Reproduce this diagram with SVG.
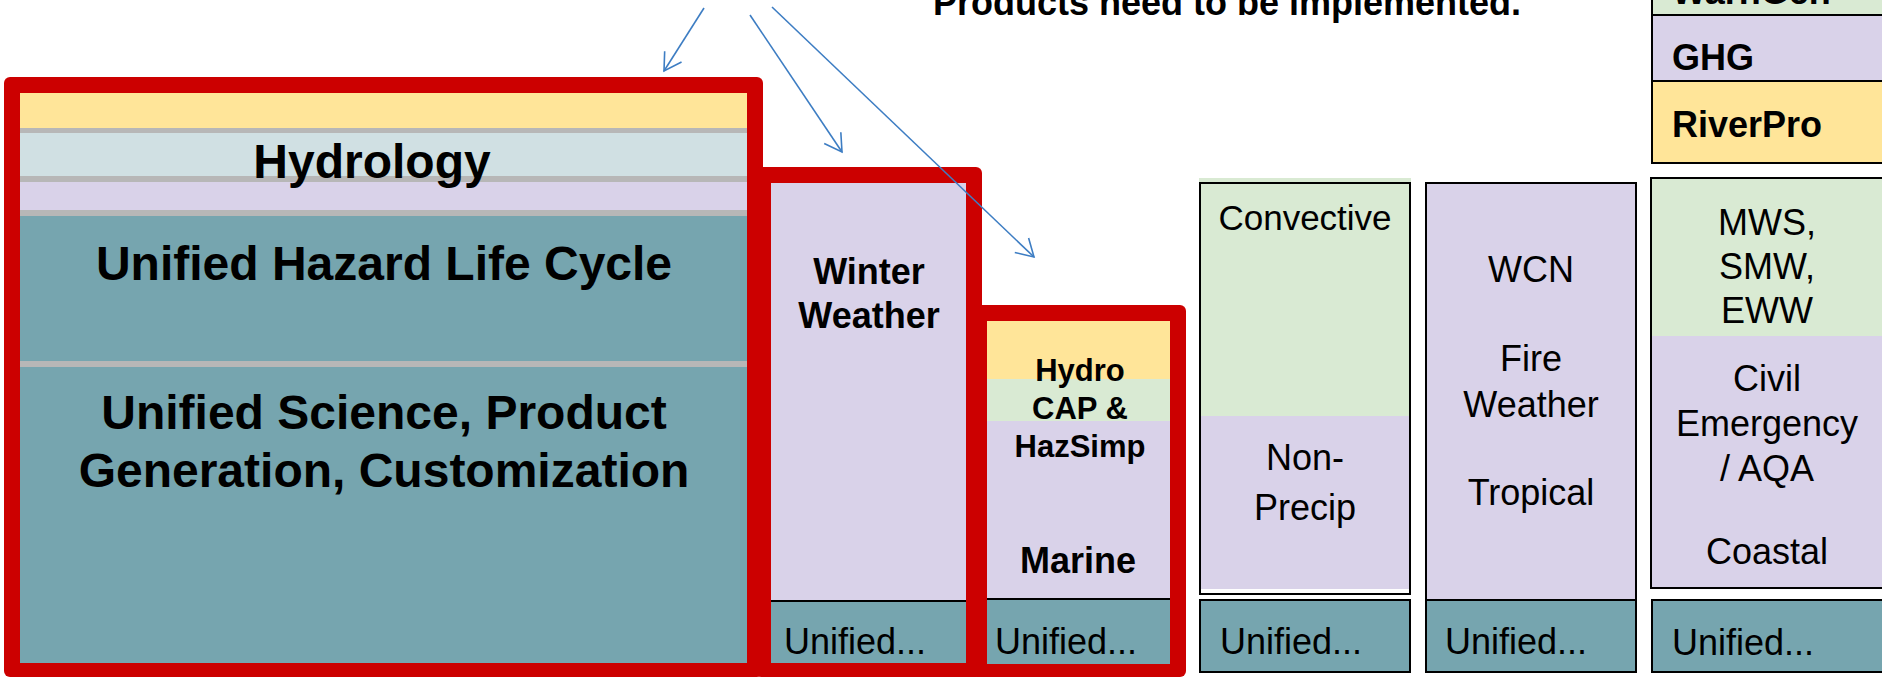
<svg xmlns="http://www.w3.org/2000/svg" width="1882" height="677" viewBox="0 0 1882 677">
<defs>
<style>
.t{font-family:"Liberation Sans",Arial,sans-serif;fill:#000}
.b{font-weight:bold}
.m{text-anchor:middle}
.s48{font-size:48px}
.s36{font-size:36px}
.s35{font-size:35px}
.s31{font-size:31px}
.frame{fill:#CC0000}
.yel{fill:#FFE599}
.blu{fill:#D0E0E3}
.lav{fill:#D9D2E9}
.teal{fill:#76A5AF}
.grn{fill:#D9EAD3}
.sep{fill:#B7B7B7}
.bx{stroke:#000;stroke-width:2}
.ol{fill:none;stroke:#000;stroke-width:2}
.arr{fill:none;stroke:#3D7DC3;stroke-width:1.6}
</style>
<marker id="ah" markerUnits="userSpaceOnUse" markerWidth="24" markerHeight="24" viewBox="-20 -12 24 24" refX="0" refY="0" orient="auto"><path d="M-17,-10 L0,0 L-17,10" fill="none" stroke="#3D7DC3" stroke-width="1.6"/></marker>
</defs>
<rect width="1882" height="677" fill="#fff"/>

<g id="frame1">
<rect class="frame" x="4" y="77" width="759" height="600" rx="6"/>
<rect class="yel" x="20" y="93" width="727" height="35"/>
<rect class="sep" x="20" y="128" width="727" height="5"/>
<rect class="blu" x="20" y="133" width="727" height="43"/>
<rect class="sep" x="20" y="176" width="727" height="6"/>
<rect class="lav" x="20" y="182" width="727" height="28"/>
<rect class="sep" x="20" y="210" width="727" height="6"/>
<rect class="teal" x="20" y="216" width="727" height="145"/>
<rect class="sep" x="20" y="361" width="727" height="6"/>
<rect class="teal" x="20" y="367" width="727" height="296"/>
<text class="t b s48 m" x="372" y="178">Hydrology</text>
<text class="t b s48 m" x="384" y="280">Unified Hazard Life Cycle</text>
<text class="t b s48 m" x="384" y="429">Unified Science, Product</text>
<text class="t b s48 m" x="384" y="487">Generation, Customization</text>
</g>

<g id="frame2">
<rect class="frame" x="755" y="167" width="227" height="510" rx="6"/>
<rect class="lav" x="771" y="183" width="195" height="417"/>
<rect class="teal" x="771" y="600" width="195" height="63"/>
<rect fill="#000" x="771" y="600" width="195" height="2"/>
<text class="t b s36 m" x="869" y="284">Winter</text>
<text class="t b s36 m" x="869" y="328">Weather</text>
<text class="t s36" x="784" y="654">Unified...</text>
</g>

<g id="frame3">
<rect class="frame" x="971" y="305" width="215" height="372" rx="6"/>
<rect class="yel" x="987" y="321" width="183" height="58"/>
<rect class="grn" x="987" y="379" width="183" height="42"/>
<rect class="lav" x="987" y="421" width="183" height="177"/>
<rect class="teal" x="987" y="598" width="183" height="66"/>
<rect fill="#000" x="987" y="598" width="183" height="2"/>
<text class="t b s31 m" x="1080" y="381">Hydro</text>
<text class="t b s31 m" x="1080" y="419">CAP &amp;</text>
<text class="t b s31 m" x="1080" y="457">HazSimp</text>
<text class="t b s36 m" x="1078" y="573">Marine</text>
<text class="t s36" x="995" y="654">Unified...</text>
</g>

<g id="convective">
<rect class="grn" x="1199" y="178" width="212" height="238"/>
<rect class="lav" x="1199" y="416" width="212" height="173"/>
<rect class="ol" x="1200" y="183" width="210" height="411"/>
<text class="t s35 m" x="1305" y="230">Convective</text>
<text class="t s36 m" x="1305" y="470">Non-</text>
<text class="t s36 m" x="1305" y="520">Precip</text>
</g>
<g id="convective-unified">
<rect class="teal bx" x="1200" y="600" width="210" height="72"/>
<text class="t s36" x="1220" y="654">Unified...</text>
</g>

<g id="wcn">
<rect class="lav bx" x="1426" y="183" width="210" height="417"/>
<text class="t s36 m" x="1531" y="282">WCN</text>
<text class="t s36 m" x="1531" y="371">Fire</text>
<text class="t s36 m" x="1531" y="417">Weather</text>
<text class="t s36 m" x="1531" y="505">Tropical</text>
</g>
<g id="wcn-unified">
<rect class="teal bx" x="1426" y="600" width="210" height="72"/>
<text class="t s36" x="1445" y="654">Unified...</text>
</g>

<g id="mws">
<rect class="grn" x="1651" y="178" width="240" height="158"/>
<rect class="lav" x="1651" y="336" width="240" height="252"/>
<rect class="ol" x="1651" y="178" width="240" height="410"/>
<text class="t s36 m" x="1767" y="235">MWS,</text>
<text class="t s36 m" x="1767" y="279">SMW,</text>
<text class="t s36 m" x="1767" y="323">EWW</text>
<text class="t s36 m" x="1767" y="391">Civil</text>
<text class="t s36 m" x="1767" y="436">Emergency</text>
<text class="t s36 m" x="1767" y="481">/ AQA</text>
<text class="t s36 m" x="1767" y="564">Coastal</text>
</g>
<g id="mws-unified">
<rect class="teal bx" x="1652" y="600" width="240" height="72"/>
<text class="t s36" x="1672" y="655">Unified...</text>
</g>

<g id="warngen">
<rect class="grn bx" x="1652" y="-20" width="240" height="35"/>
<text class="t b s36" x="1672" y="4">WarnGen</text>
</g>
<g id="ghg">
<rect class="lav bx" x="1652" y="15" width="240" height="66"/>
<text class="t b s36" x="1672" y="70">GHG</text>
</g>
<g id="riverpro">
<rect class="yel bx" x="1652" y="81" width="240" height="82"/>
<text class="t b s36" x="1672" y="137">RiverPro</text>
</g>

<g id="note">
<text class="t b s36" x="933" y="15">Products need to be implemented.</text>
</g>

<g id="connectors">
<line class="arr" x1="704" y1="8" x2="664" y2="71" marker-end="url(#ah)"/>
<line class="arr" x1="750" y1="15" x2="842" y2="152" marker-end="url(#ah)"/>
<line class="arr" x1="772" y1="7" x2="1034" y2="257" marker-end="url(#ah)"/>
</g>
</svg>
